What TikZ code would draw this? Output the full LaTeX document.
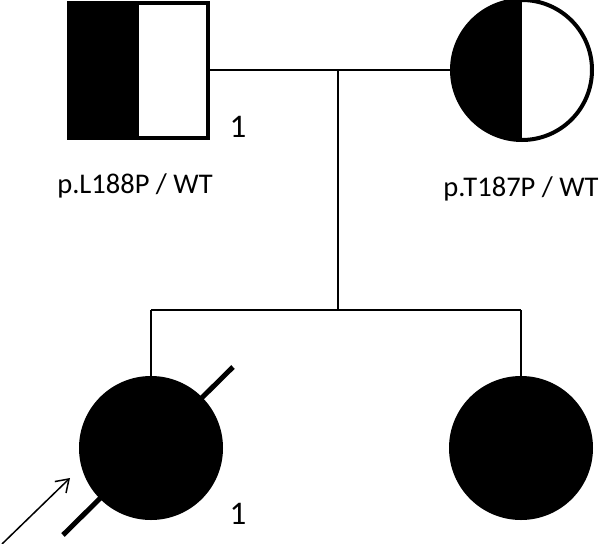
\documentclass[tikz,border=0pt]{standalone}
\usepackage{fontspec}
\setmainfont{Carlito}
\usepackage{tikz}
\usetikzlibrary{arrows.meta}

\begin{document}
\begin{tikzpicture}[x=1pt,y=-1pt,
    line/.style={line width=2pt},
    male/.style={draw,line width=4pt,rectangle,minimum width=139pt,minimum height=135pt,inner sep=0pt},
    female/.style={draw,line width=4pt,circle,minimum size=140pt,inner sep=0pt},
    halfleft/.style={path picture={\fill[black] (path picture bounding box.south west) rectangle (path picture bounding box.north);}},
    affected/.style={female,fill=black},
    genotype/.style={font=\fontsize{28.5}{32}\selectfont},
    number/.style={font=\fontsize{33}{36}\selectfont}]
    \useasboundingbox (0,0) rectangle (603,544);

    \node[male,halfleft] (father) at (138.5,70){};
    \node[female,halfleft] (mother) at (522,70){};
    \node[affected] (proband) at (151,448){};
    \node[affected] (sister) at (521,448){};

    \node[number] (fathernum) at (238,127){1};
    \node[number] (probandnum) at (238,514){1};
    \node[genotype] (fathergt) at (135,186){p.L188P / WT};
    \node[genotype] (mothergt) at (521,189){p.T187P / WT};

    \coordinate (mating) at (338,70);
    \coordinate (sibship) at (338,310);
    \coordinate (sibleft) at (151,310);
    \coordinate (sibright) at (521,310);

    \draw[line] (father.east) -- (mother.west);
    \draw[line] (mating) -- (sibship);
    \draw[line] (sibleft) -- (sibright);
    \draw[line] (sibleft) -- (proband.north);
    \draw[line] (sibright) -- (sister.north);

    \coordinate (slashlow) at (63,535);
    \coordinate (slashhigh) at (233,367);
    \draw[line width=5pt] (slashlow) -- (slashhigh);

    \coordinate (arrowtail) at (2,544);
    \coordinate (arrowhead) at (70,478);
    \draw[line width=1.5pt,-{Straight Barb[length=12pt,width=16pt]}] (arrowtail) -- (arrowhead);
\end{tikzpicture}
\end{document}
